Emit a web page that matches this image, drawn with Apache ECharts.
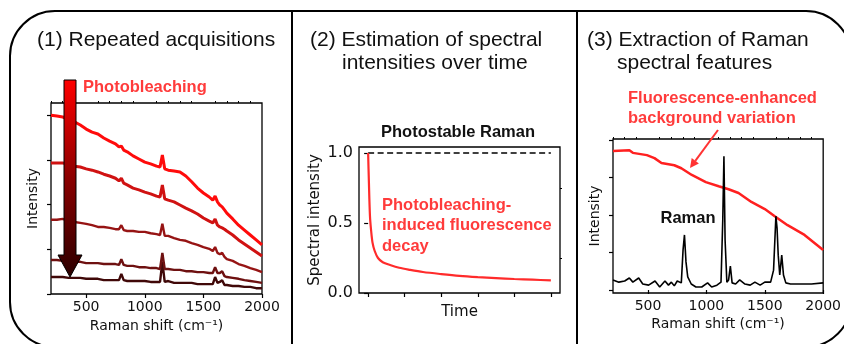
<!DOCTYPE html>
<html>
<head>
<meta charset="utf-8">
<script src="https://cdn.jsdelivr.net/npm/echarts@6/dist/echarts.min.js"></script>
<style>
  html, body { margin: 0; padding: 0; background: #fff; }
  #chart { width: 844px; height: 344px; }
</style>
</head>
<body>
<div id="chart"></div>
<script>
// ---- (1) repeated acquisitions: five spectra, brightest = first acquisition ----
const shiftGrid = [200,250,300,350,400,450,500,550,600,650,700,750,780,800,820,850,900,950,1000,1050,1100,1130,1150,1170,1200,1250,1300,1350,1400,1450,1500,1550,1580,1600,1620,1640,1660,1680,1700,1750,1800,1850,1900,1950,2000];
const spectrum1 = [4.00,3.98,3.96,3.91,3.85,3.78,3.69,3.62,3.58,3.49,3.42,3.36,3.29,3.31,3.22,3.18,3.09,3.02,2.95,2.91,2.86,2.84,3.11,2.80,2.77,2.75,2.73,2.64,2.51,2.37,2.26,2.17,2.10,2.19,2.06,1.99,1.95,1.88,1.81,1.68,1.54,1.43,1.32,1.21,1.10];
const spectrum2 = [2.93,2.93,2.93,2.91,2.86,2.84,2.80,2.77,2.73,2.68,2.64,2.59,2.53,2.59,2.48,2.44,2.37,2.33,2.28,2.24,2.19,2.17,2.44,2.13,2.10,2.06,1.99,1.92,1.86,1.79,1.70,1.63,1.59,1.68,1.54,1.50,1.48,1.45,1.41,1.32,1.21,1.12,1.03,0.94,0.85];
const spectrum3 = [1.66,1.66,1.68,1.63,1.61,1.59,1.57,1.54,1.50,1.50,1.48,1.45,1.45,1.54,1.43,1.41,1.41,1.39,1.39,1.36,1.34,1.32,1.57,1.30,1.30,1.25,1.21,1.19,1.14,1.10,1.05,1.01,0.96,1.05,0.92,0.89,0.92,0.83,0.78,0.74,0.67,0.63,0.58,0.54,0.49];
const spectrum4 = [0.76,0.76,0.74,0.74,0.72,0.72,0.69,0.69,0.69,0.67,0.67,0.67,0.65,0.78,0.65,0.63,0.63,0.60,0.60,0.58,0.58,0.56,0.92,0.56,0.56,0.54,0.54,0.51,0.51,0.49,0.49,0.47,0.47,0.60,0.47,0.47,0.51,0.40,0.38,0.36,0.34,0.31,0.29,0.27,0.25];
const spectrum5 = [0.38,0.38,0.38,0.36,0.36,0.36,0.34,0.34,0.34,0.31,0.31,0.31,0.31,0.45,0.31,0.29,0.29,0.29,0.29,0.27,0.27,0.27,0.72,0.27,0.29,0.25,0.25,0.25,0.25,0.22,0.22,0.22,0.22,0.38,0.25,0.27,0.31,0.20,0.20,0.18,0.18,0.16,0.16,0.13,0.13];
const spectrumColors = ['#ff0b0b', '#d01212', '#961414', '#6e1010', '#400808'];

// ---- (2) spectral intensities over time ----
const decayTime  = [0, 0.02, 0.05, 0.08, 0.12, 0.18, 0.27, 0.4, 0.6, 0.85, 1.15, 1.5, 2, 2.5, 3, 3.5, 4, 4.5, 5];
const decayValue = [1.0, 0.8, 0.55, 0.45, 0.36, 0.3, 0.25, 0.22, 0.2, 0.18, 0.165, 0.15, 0.135, 0.122, 0.113, 0.106, 0.1, 0.095, 0.09];
const stableTime  = [0, 5];
const stableValue = [1.0, 1.0];
const timeTicks = [0, 1, 2, 3, 4, 5];

// ---- (3) extracted Raman spectrum and fluorescence background ----
const ramanShift  = [200,250,300,340,370,420,455,505,560,600,645,675,700,725,750,785,800,812,825,840,870,910,960,1010,1045,1090,1125,1140,1150,1160,1175,1190,1205,1220,1250,1285,1330,1375,1415,1460,1500,1550,1575,1595,1605,1615,1628,1645,1660,1680,1720,1800,1900,2000];
const ramanSignal = [0.27,0.21,0.24,0.32,0.21,0.32,0.16,0.13,0.24,0.08,0.24,0.13,0.21,0.11,0.24,0.19,1.07,1.47,0.75,0.35,0.16,0.08,0.08,0.19,0.08,0.13,0.21,1.87,3.57,1.33,0.21,0.27,0.64,0.19,0.16,0.27,0.16,0.13,0.21,0.13,0.21,0.21,0.53,1.97,1.65,0.93,0.40,0.93,0.40,0.19,0.16,0.16,0.16,0.19];
const backgroundShift  = [200,340,370,490,555,615,725,785,875,995,1105,1190,1275,1385,1500,1585,1695,1840,2000];
const backgroundSignal = [3.71,3.73,3.66,3.60,3.52,3.39,3.33,3.25,3.07,2.88,2.77,2.69,2.59,2.35,2.16,1.97,1.73,1.47,1.07];

// tick labels
const shiftTicks = [500, 1000, 1500, 2000];
const shiftMinorTicks = [200,300,400,600,700,800,900,1100,1200,1300,1400,1600,1700,1800,1900];
const intensityTicks = [0, 0.5, 1.0];

const AX_FONT = 'DejaVu Sans';
const TXT_FONT = 'Liberation Sans, Arial, sans-serif';
const BLACK = '#111';
const LABEL_RED = '#ff3b3b';

const chart = echarts.init(document.getElementById('chart'), null, { renderer: 'canvas' });

const pairs = (xs, ys) => xs.map((x, i) => [x, ys[i]]);

function gridBox(left, top, width, height) {
  return { left, top, width, height, show: true, borderColor: '#000', borderWidth: 1.3,
           backgroundColor: 'transparent', containLabel: false };
}

function majorAxis(extra) {
  return Object.assign({
    type: 'value',
    axisLine: { show: false },
    splitLine: { show: false },
    axisTick: { show: true, inside: false, length: 4, lineStyle: { color: '#000', width: 1.2 } },
    axisLabel: { show: false },
    nameLocation: 'middle',
    nameTextStyle: { fontFamily: AX_FONT, fontSize: 14, color: BLACK }
  }, extra);
}

function minorAxis(extra) {
  return Object.assign({
    type: 'value',
    axisLine: { show: false },
    splitLine: { show: false },
    axisLabel: { show: false },
    axisTick: { show: true, inside: false, length: 2, lineStyle: { color: '#000', width: 1 } }
  }, extra);
}

const shiftLabel = { show: true, customValues: shiftTicks, margin: 6, fontFamily: AX_FONT, fontSize: 14, color: BLACK,
                     formatter: v => String(v) };

const spectraSeries = [spectrum1, spectrum2, spectrum3, spectrum4, spectrum5].map((s, k) => ({
  type: 'line', xAxisIndex: 0, yAxisIndex: 0, showSymbol: false, symbol: 'none',
  data: pairs(shiftGrid, s),
  lineStyle: { color: spectrumColors[k], width: k < 2 ? 3 : 2.4 },
  z: 2 + (5 - k)
}));

const option = {
  animation: false,
  backgroundColor: '#fff',
  grid: [
    gridBox(51, 103, 211, 191),
    gridBox(359, 147, 201, 146),
    gridBox(613, 139, 213, 154)
  ],
  xAxis: [
    majorAxis({
      gridIndex: 0, min: 200, max: 2000,
      axisTick: { show: true, length: 4, customValues: shiftTicks, lineStyle: { color: '#000', width: 1.2 } },
      axisLabel: shiftLabel,
      name: 'Raman shift (cm⁻¹)', nameGap: 21
    }),
    minorAxis({ gridIndex: 0, min: 200, max: 2000, axisTick: { show: true, length: 2, customValues: shiftMinorTicks, lineStyle: { color: '#000', width: 1 } } }),
    majorAxis({
      gridIndex: 1, min: -0.25, max: 5.25,
      axisTick: { show: true, length: 4, customValues: timeTicks, lineStyle: { color: '#000', width: 1.2 } },
      name: 'Time', nameGap: 12,
      nameTextStyle: { fontFamily: AX_FONT, fontSize: 15, color: BLACK }
    }),
    majorAxis({
      gridIndex: 2, min: 200, max: 2000,
      axisTick: { show: true, length: 4, customValues: shiftTicks, lineStyle: { color: '#000', width: 1.2 } },
      axisLabel: shiftLabel,
      name: 'Raman shift (cm⁻¹)', nameGap: 24
    }),
    minorAxis({ gridIndex: 2, min: 200, max: 2000, axisTick: { show: true, length: 2, customValues: shiftMinorTicks, lineStyle: { color: '#000', width: 1 } } })
  ],
  yAxis: [
    majorAxis({
      gridIndex: 0, min: 0, max: 4.273,
      axisTick: { show: true, length: 4, customValues: [0, 1, 2, 3, 4], lineStyle: { color: '#000', width: 1.2 } },
      name: 'Intensity', nameGap: 11
    }),
    majorAxis({
      gridIndex: 1, min: 0, max: 1.043,
      axisTick: { show: true, length: 4, customValues: intensityTicks, lineStyle: { color: '#000', width: 1.2 } },
      axisLabel: { show: true, customValues: intensityTicks, margin: 6, fontFamily: AX_FONT, fontSize: 16, color: BLACK,
                   formatter: v => Number(v).toFixed(1) },
      name: 'Spectral intensity', nameGap: 36,
      nameTextStyle: { fontFamily: AX_FONT, fontSize: 15, color: BLACK }
    }),
    minorAxis({ gridIndex: 1, min: 0, max: 1.043, axisTick: { show: true, length: 2, customValues: [0.25, 0.75], lineStyle: { color: '#000', width: 1 } } }),
    majorAxis({
      gridIndex: 2, min: -0.08, max: 4.03,
      axisTick: { show: true, length: 4, customValues: [0, 1, 2, 3, 4], lineStyle: { color: '#000', width: 1.2 } },
      name: 'Intensity', nameGap: 11
    })
  ],
  series: spectraSeries.concat([
    {
      type: 'line', xAxisIndex: 2, yAxisIndex: 1, showSymbol: false, symbol: 'none',
      data: pairs(stableTime, stableValue),
      lineStyle: { color: '#000', width: 1.5, type: [6, 3.5] }
    },
    {
      type: 'line', xAxisIndex: 2, yAxisIndex: 1, showSymbol: false, symbol: 'none', smooth: 0.3,
      data: pairs(decayTime, decayValue),
      lineStyle: { color: '#ff2b2b', width: 2.2 }
    },
    {
      type: 'line', xAxisIndex: 3, yAxisIndex: 3, showSymbol: false, symbol: 'none',
      data: pairs(backgroundShift, backgroundSignal),
      lineStyle: { color: '#ff2020', width: 2.5 }
    },
    {
      type: 'line', xAxisIndex: 3, yAxisIndex: 3, showSymbol: false, symbol: 'none',
      data: pairs(ramanShift, ramanSignal),
      lineStyle: { color: '#000', width: 1.6 }
    }
  ]),
  graphic: [
    // rounded outer frame and panel dividers
    { type: 'rect', z: 1, silent: true, shape: { x: 10, y: 11, width: 841, height: 336, r: 45 },
      style: { fill: 'none', stroke: '#000', lineWidth: 2 } },
    { type: 'line', z: 1, silent: true, shape: { x1: 292, y1: 11, x2: 292, y2: 347 }, style: { stroke: '#000', lineWidth: 2 } },
    { type: 'line', z: 1, silent: true, shape: { x1: 577, y1: 11, x2: 577, y2: 347 }, style: { stroke: '#000', lineWidth: 2 } },

    // panel headings
    { type: 'text', x: 37, y: 40, style: { text: '(1) Repeated acquisitions', font: '21px ' + TXT_FONT, fill: BLACK, textAlign: 'left', textVerticalAlign: 'middle' } },
    { type: 'text', x: 310, y: 40, style: { text: '(2) Estimation of spectral', font: '21px ' + TXT_FONT, fill: BLACK, textAlign: 'left', textVerticalAlign: 'middle' } },
    { type: 'text', x: 342, y: 63, style: { text: 'intensities over time', font: '21px ' + TXT_FONT, fill: BLACK, textAlign: 'left', textVerticalAlign: 'middle' } },
    { type: 'text', x: 587, y: 40, style: { text: '(3) Extraction of Raman', font: '21px ' + TXT_FONT, fill: BLACK, textAlign: 'left', textVerticalAlign: 'middle' } },
    { type: 'text', x: 617, y: 63, style: { text: 'spectral features', font: '21px ' + TXT_FONT, fill: BLACK, textAlign: 'left', textVerticalAlign: 'middle' } },

    // photobleaching arrow (red to near-black)
    { type: 'polygon', z: 100, silent: true,
      shape: { points: [[64, 80], [76, 80], [76, 255], [82, 255], [70, 277], [58, 255], [64, 255]] },
      style: { fill: new echarts.graphic.LinearGradient(0, 0, 0, 1, [
                 { offset: 0, color: '#ff0000' }, { offset: 0.5, color: '#8a0000' }, { offset: 1, color: '#2a0000' }]),
               stroke: '#000', lineWidth: 1 } },
    { type: 'text', z: 100, x: 83, y: 87, style: { text: 'Photobleaching', font: 'bold 16.5px ' + TXT_FONT, fill: LABEL_RED, textAlign: 'left', textVerticalAlign: 'middle' } },

    // panel 2 annotations
    { type: 'text', z: 100, x: 458, y: 132, style: { text: 'Photostable Raman', font: 'bold 16.5px ' + TXT_FONT, fill: BLACK, textAlign: 'center', textVerticalAlign: 'middle' } },
    { type: 'text', z: 100, x: 382, y: 205, style: { text: 'Photobleaching-', font: 'bold 16.5px ' + TXT_FONT, fill: LABEL_RED, textAlign: 'left', textVerticalAlign: 'middle' } },
    { type: 'text', z: 100, x: 382, y: 225.5, style: { text: 'induced fluorescence', font: 'bold 16.5px ' + TXT_FONT, fill: LABEL_RED, textAlign: 'left', textVerticalAlign: 'middle' } },
    { type: 'text', z: 100, x: 382, y: 246, style: { text: 'decay', font: 'bold 16.5px ' + TXT_FONT, fill: LABEL_RED, textAlign: 'left', textVerticalAlign: 'middle' } },

    // panel 3 annotations
    { type: 'text', z: 100, x: 628, y: 98, style: { text: 'Fluorescence-enhanced', font: 'bold 16.5px ' + TXT_FONT, fill: LABEL_RED, textAlign: 'left', textVerticalAlign: 'middle' } },
    { type: 'text', z: 100, x: 628, y: 118, style: { text: 'background variation', font: 'bold 16.5px ' + TXT_FONT, fill: LABEL_RED, textAlign: 'left', textVerticalAlign: 'middle' } },
    { type: 'line', z: 100, silent: true, shape: { x1: 718, y1: 130, x2: 695.3, y2: 160.8 }, style: { stroke: '#ff3333', lineWidth: 2 } },
    { type: 'polygon', z: 100, silent: true, shape: { points: [[690, 168], [698.9, 163.5], [691.7, 158.1]] }, style: { fill: '#ff3333' } },
    { type: 'text', z: 100, x: 688, y: 218, style: { text: 'Raman', font: 'bold 16.5px ' + TXT_FONT, fill: BLACK, textAlign: 'center', textVerticalAlign: 'middle' } }
  ]
};

chart.setOption(option);
</script>
</body>
</html>
